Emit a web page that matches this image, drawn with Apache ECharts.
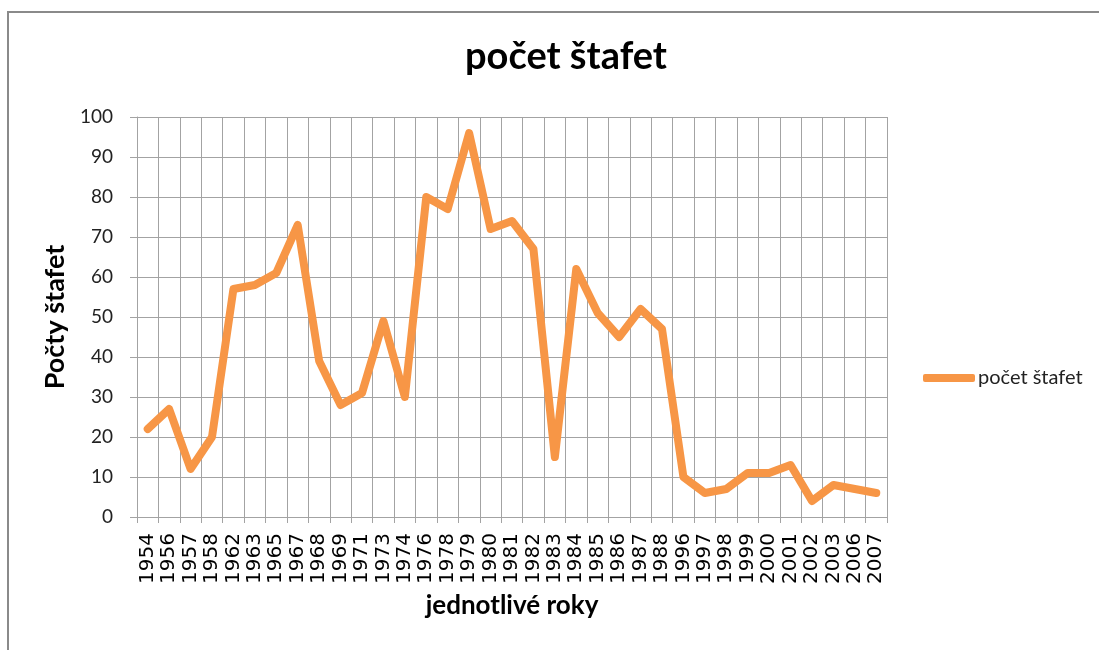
<!DOCTYPE html>
<html>
<head>
<meta charset="utf-8">
<script src="https://cdn.jsdelivr.net/npm/echarts@6/dist/echarts.min.js"></script>
<style>
html,body{margin:0;padding:0;background:#fff;}
#chart{width:1099px;height:650px;}
</style>
</head>
<body>
<div id="chart"></div>
<script>
const years = ['1954','1956','1957','1958','1962','1963','1965','1967','1968','1969','1971','1973','1974','1976','1978','1979','1980','1981','1982','1983','1984','1985','1986','1987','1988','1996','1997','1998','1999','2000','2001','2002','2003','2006','2007'];
const relays = [22,27,12,20,57,58,61,73,39,28,31,49,30,80,77,96,72,74,67,15,62,51,45,52,47,10,6,7,11,11,13,4,8,7,6];
const seriesName = 'počet štafet';
const titleText = 'počet štafet';
const xName = 'jednotlivé roky';
const yName = 'Počty štafet';

const chart = echarts.init(document.getElementById('chart'), null, {renderer:'canvas'});
const gridColor = '#a3a3a3';
chart.setOption({
  animation:false,
  backgroundColor:'#ffffff',
  title:{
    text:titleText,
    left:561, top:33, textAlign:'center',
    textStyle:{fontFamily:'Lato', fontWeight:'bold', fontSize:38, color:'#000'}
  },
  legend:{
    data:[seriesName],
    left:918, top:363,
    itemWidth:52, itemHeight:8, itemGap:10,
    icon:'roundRect',
    textStyle:{fontFamily:'Lato', fontSize:20, color:'#222', padding:[0,0,0,-2]}
  },
  graphic:[{
    type:'rect', silent:true,
    shape:{x:8, y:12, width:1200, height:800},
    style:{fill:'none', stroke:'#8a8a8a', lineWidth:2}
  }],
  grid:{left:137, right:212, top:117, bottom:133},
  xAxis:{
    type:'category',
    data:years,
    boundaryGap:true,
    name:xName, nameLocation:'middle', nameGap:76,
    nameTextStyle:{fontFamily:'Lato', fontWeight:'bold', fontSize:26, color:'#000'},
    axisLine:{lineStyle:{color:gridColor, width:1}},
    axisTick:{show:true, length:6, lineStyle:{color:gridColor}},
    axisLabel:{rotate:90, interval:0, margin:16, fontFamily:'DejaVu Sans', fontSize:20, color:'#000'},
    splitLine:{show:true, interval:0, lineStyle:{color:gridColor, width:1}}
  },
  yAxis:{
    type:'value', min:0, max:100, interval:10,
    name:yName, nameLocation:'middle', nameGap:61, nameRotate:90,
    nameTextStyle:{fontFamily:'Lato', fontWeight:'bold', fontSize:27, color:'#000'},
    axisLine:{show:true, lineStyle:{color:gridColor, width:1}},
    axisTick:{show:true, length:7, lineStyle:{color:gridColor}},
    axisLabel:{margin:24, fontFamily:'Lato', fontSize:19, color:'#222'},
    splitLine:{show:true, lineStyle:{color:gridColor, width:1}}
  },
  series:[{
    name:seriesName,
    type:'line',
    data:relays,
    showSymbol:false,
    symbol:'none',
    itemStyle:{color:'#F79646'},
    lineStyle:{color:'#F79646', width:8, cap:'round', join:'round'}
  }]
});
</script>
</body>
</html>
